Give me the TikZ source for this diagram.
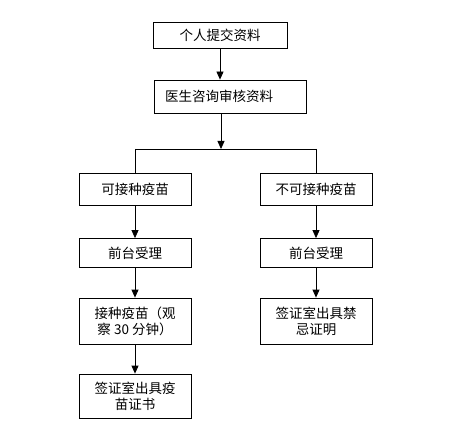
\documentclass[tikz,border=0pt]{standalone}
\usepackage{fontspec}
\setmainfont{Noto Sans CJK SC}
\usepackage{tikz}
\usetikzlibrary{arrows.meta,positioning}

\begin{document}
\begin{tikzpicture}[
    x=1pt, y=-1pt,
    stage/.style={draw, line width=0.8pt, minimum width=112pt, inner sep=0pt, align=center,
                  font=\fontsize{13.5pt}{16pt}\selectfont},
    arr/.style={-{Triangle[width=7pt, length=8pt]}, line width=0.8pt},
    link/.style={line width=0.8pt},
]
\fill[white] (0,0) rectangle (460,438);

% --- top: submission and review ---
\node[stage, minimum width=134pt, minimum height=26pt] (submit) at (220,35) {个人提交资料};
\node[stage, minimum width=152pt, minimum height=33pt, text width=130pt, align=left] (review) at (230,96.5) {医生咨询审核资料};
\draw[arr] (submit.south) -- (submit.south |- review.north);

% --- split ---
\coordinate (split) at (221,149);
\coordinate (splitL) at (135,149);
\coordinate (splitR) at (316,149);
\draw[arr] (review.south -| split) -- (split);
\draw[link] (splitL) -- (splitR);

% --- left branch: can be vaccinated ---
\node[stage, minimum height=32pt] (yes) at (135,189) {可接种疫苗};
\node[stage, minimum height=29pt] (deskL) at (135,253) {前台受理};
\node[stage, minimum height=46pt] (inject) at (135,321) {接种疫苗（观\\察 30 分钟）};
\node[stage, minimum height=44pt] (cert) at (135,396) {签证室出具疫\\苗证书};
\draw[link] (splitL) -- (yes.north);
\draw[arr] (yes) -- (deskL);
\draw[arr] (deskL) -- (inject);
\draw[arr] (inject) -- (cert);

% --- right branch: cannot be vaccinated ---
\node[stage, minimum height=32pt] (no) at (316,189) {不可接种疫苗};
\node[stage, minimum height=29pt] (deskR) at (316,253) {前台受理};
\node[stage, minimum height=46pt] (contra) at (316,321) {签证室出具禁\\忌证明};
\draw[link] (splitR) -- (no.north);
\draw[arr] (no) -- (deskR);
\draw[arr] (deskR) -- (contra);
\end{tikzpicture}
\end{document}
